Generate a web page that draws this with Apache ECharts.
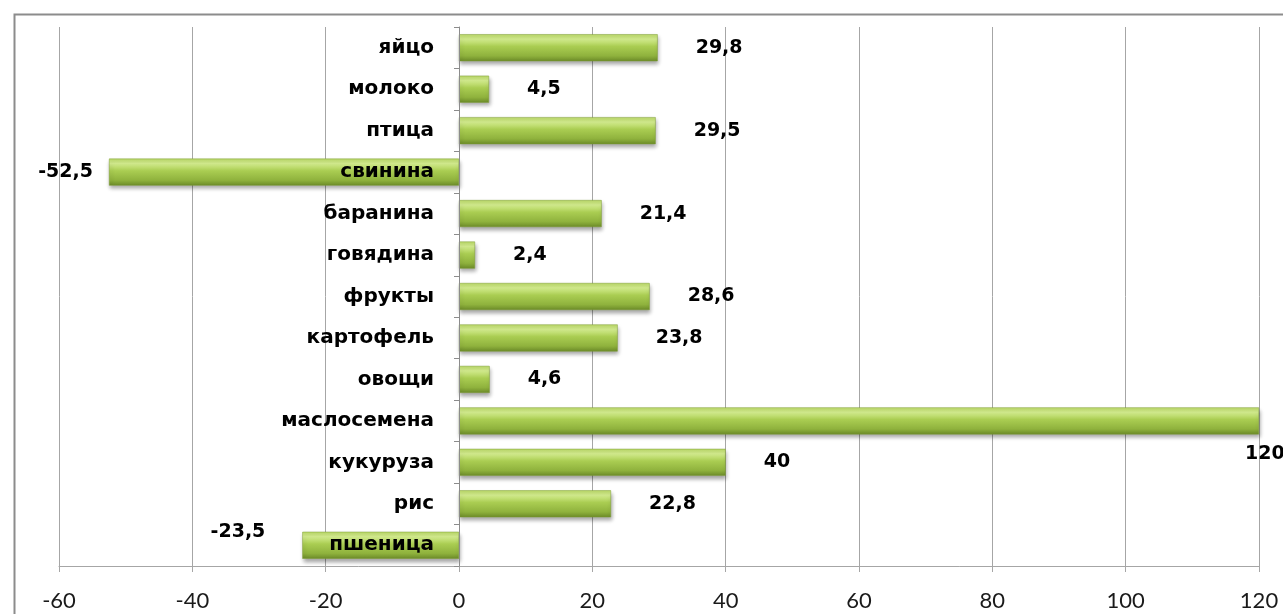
<!DOCTYPE html>
<html>
<head>
<meta charset="utf-8">
<script src="https://cdn.jsdelivr.net/npm/echarts@6/dist/echarts.min.js"></script>
<style>
html,body{margin:0;padding:0;background:#fff;}
#chart{width:1283px;height:614px;}
</style>
</head>
<body>
<div id="chart"></div>
<script>
const categories = ['пшеница','рис','кукуруза','маслосемена','овощи','картофель','фрукты','говядина','баранина','свинина','птица','молоко','яйцо'];
const values = [-23.5, 22.8, 40, 120, 4.6, 23.8, 28.6, 2.4, 21.4, -52.5, 29.5, 4.5, 29.8];
const xTicks = [-60, -40, -20, 0, 20, 40, 60, 80, 100, 120];

const W = 1283;
const gridLeft = 59, gridRight = 24, gridTop = 27, gridBottom = 48;
const xMin = -60, xMax = 120;
const plotW = W - gridLeft - gridRight;
// shift the category axis so it sits on value 0
const yAxisOffset = -plotW * (0 - xMin) / (xMax - xMin);

const chart = echarts.init(document.getElementById('chart'));
const maxVal = Math.max(...values);
const fmt = v => String(v).replace('.', ',');

const barGradient = new echarts.graphic.LinearGradient(0, 0, 0, 1, [
  {offset: 0, color: '#b9d867'},
  {offset: 0.18, color: '#d4ed8f'},
  {offset: 0.45, color: '#aacd52'},
  {offset: 0.8, color: '#8fb23d'},
  {offset: 1, color: '#6b8a28'}
]);

const data = values.map((v, i) => {
  let label;
  if (v === maxVal) {
    label = {position: ['100%', '100%'], offset: [-14, 10]};
  } else if (v < 0 && v > -30) {
    label = {position: 'left', distance: 37, offset: [0, -13]};
  } else if (v < 0) {
    label = {position: 'left', distance: 16};
  } else {
    label = {position: 'right', distance: 38, offset: [0, 0]};
  }
  return {value: v, label};
});

chart.setOption({
  animation: false,
  graphic: [{
    type: 'rect', left: 12, top: 12, z: -10,
    shape: {x: 0, y: 0, width: 1400, height: 700},
    style: {fill: 'none', stroke: '#8c8c8c', lineWidth: 2}
  }],
  grid: {left: gridLeft, right: gridRight, top: gridTop, bottom: gridBottom, containLabel: false, outerBoundsMode: 'none'},
  xAxis: {
    type: 'value', min: xMin, max: xMax, interval: 20,
    axisLine: {show: true, onZero: false, lineStyle: {color: '#a6a6a6', width: 1}},
    axisTick: {show: true, length: 6, lineStyle: {color: '#a6a6a6'}},
    splitLine: {show: true, lineStyle: {color: '#a6a6a6', width: 1}},
    axisLabel: {
      color: '#1a1a1a', fontFamily: 'Lato', fontSize: 22, margin: 24,
      formatter: v => xTicks.includes(v) ? String(v) : ''
    }
  },
  yAxis: {
    type: 'category', data: categories, z: 10,
    offset: yAxisOffset,
    axisLine: {show: true, onZero: false, lineStyle: {color: '#8c8c8c', width: 1}},
    axisTick: {show: true, length: 5, lineStyle: {color: '#8c8c8c'}},
    splitLine: {show: false},
    axisLabel: {
      color: '#000', fontFamily: 'DejaVu Sans', fontWeight: 'bold', fontSize: 20, margin: 25
    }
  },
  series: [{
    type: 'bar',
    data: data,
    barWidth: 27,
    itemStyle: {
      color: barGradient,
      borderColor: '#7f9e35', borderWidth: 0.5,
      shadowColor: 'rgba(0,0,0,0.35)', shadowBlur: 4, shadowOffsetY: 3, shadowOffsetX: 1
    },
    label: {
      show: true, color: '#000', fontFamily: 'DejaVu Sans', fontWeight: 'bold', fontSize: 19,
      formatter: p => fmt(p.value)
    }
  }]
});
</script>
</body>
</html>
